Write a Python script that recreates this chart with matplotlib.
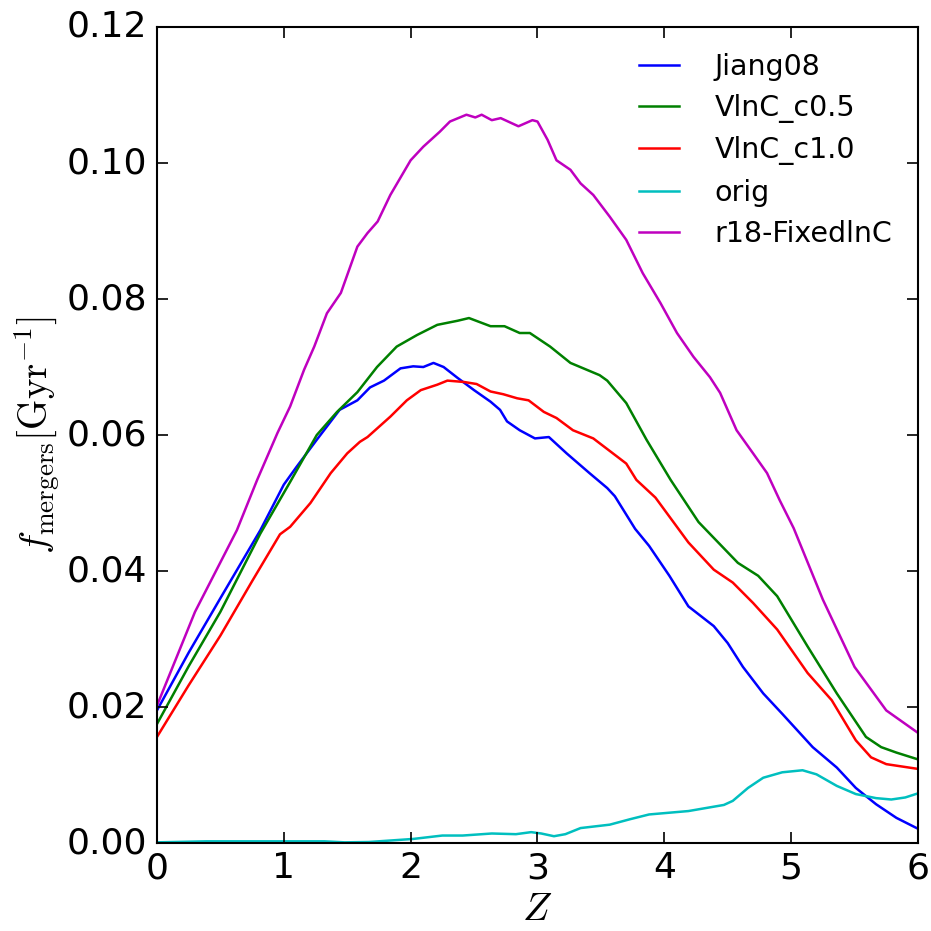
import matplotlib
matplotlib.use("Agg")
import matplotlib.pyplot as plt

z_jiang = [0.0, 0.25, 0.5, 0.815, 1.0, 1.1, 1.26, 1.44, 1.58, 1.68, 1.79, 1.92, 2.02, 2.10, 2.18, 2.26, 2.37, 2.50, 2.63, 2.705, 2.76, 2.86, 2.98, 3.09, 3.23, 3.41, 3.55, 3.61, 3.77, 3.88, 4.04, 4.19, 4.39, 4.50, 4.62, 4.78, 4.93, 5.17, 5.36, 5.51, 5.67, 5.83, 6.0]
f_jiang = [0.0195, 0.028, 0.036, 0.046, 0.0527, 0.0553, 0.0593, 0.0637, 0.0651, 0.067, 0.068, 0.0698, 0.0701, 0.070, 0.0706, 0.070, 0.0684, 0.0666, 0.0649, 0.0637, 0.062, 0.0607, 0.0595, 0.0597, 0.0573, 0.0544, 0.0522, 0.0510, 0.0462, 0.0437, 0.0393, 0.0348, 0.0319, 0.0294, 0.0259, 0.022, 0.019, 0.0141, 0.0111, 0.0081, 0.0057, 0.0037, 0.0021]

z_c05 = [0.0, 0.25, 0.5, 0.815, 1.05, 1.26, 1.42, 1.58, 1.735, 1.89, 2.05, 2.21, 2.37, 2.46, 2.63, 2.74, 2.86, 2.94, 3.10, 3.26, 3.49, 3.55, 3.70, 3.86, 4.05, 4.27, 4.58, 4.74, 4.89, 5.13, 5.36, 5.59, 5.71, 5.83, 6.0]
f_c05 = [0.0175, 0.026, 0.034, 0.0455, 0.0531, 0.060, 0.0634, 0.0663, 0.070, 0.073, 0.0747, 0.0762, 0.0768, 0.0772, 0.076, 0.076, 0.0750, 0.075, 0.073, 0.0706, 0.0688, 0.068, 0.0647, 0.0593, 0.0534, 0.0472, 0.0412, 0.0393, 0.0363, 0.0289, 0.022, 0.0156, 0.0141, 0.0133, 0.0123]

z_c10 = [0.0, 0.25, 0.5, 0.75, 0.97, 1.05, 1.21, 1.37, 1.50, 1.60, 1.66, 1.84, 1.97, 2.08, 2.21, 2.29, 2.42, 2.52, 2.63, 2.73, 2.84, 2.93, 3.05, 3.15, 3.28, 3.44, 3.63, 3.70, 3.78, 3.93, 4.19, 4.39, 4.54, 4.70, 4.89, 5.13, 5.32, 5.51, 5.63, 5.75, 6.0]
f_c10 = [0.0156, 0.0232, 0.0305, 0.0385, 0.0454, 0.0465, 0.050, 0.0544, 0.0573, 0.059, 0.0597, 0.0627, 0.0651, 0.0666, 0.0674, 0.068, 0.0678, 0.0675, 0.0664, 0.066, 0.0654, 0.0651, 0.0634, 0.0625, 0.0607, 0.0595, 0.0568, 0.0558, 0.0534, 0.0508, 0.0442, 0.0402, 0.0383, 0.0353, 0.0314, 0.025, 0.021, 0.0151, 0.0126, 0.0116, 0.0109]

z_orig = [0.0, 0.39, 0.78, 1.32, 1.48, 1.67, 2.02, 2.25, 2.41, 2.64, 2.83, 2.95, 3.03, 3.13, 3.22, 3.34, 3.57, 3.73, 3.88, 4.19, 4.47, 4.54, 4.66, 4.78, 4.93, 5.09, 5.20, 5.36, 5.51, 5.67, 5.79, 5.90, 6.0]
f_orig = [0.0001, 0.00025, 0.00025, 0.00025, 0.0001, 0.00015, 0.0006, 0.0011, 0.0011, 0.0014, 0.0013, 0.0016, 0.0014, 0.001, 0.0013, 0.0022, 0.0027, 0.0035, 0.0042, 0.0047, 0.0056, 0.0062, 0.0081, 0.0096, 0.0104, 0.0107, 0.0101, 0.0084, 0.0072, 0.0066, 0.0064, 0.0067, 0.0073]

z_r18 = [0.0, 0.3, 0.63, 0.79, 0.95, 1.05, 1.16, 1.24, 1.34, 1.45, 1.58, 1.66, 1.74, 1.84, 2.0, 2.10, 2.23, 2.31, 2.44, 2.51, 2.56, 2.64, 2.71, 2.85, 2.96, 3.0, 3.08, 3.15, 3.26, 3.34, 3.44, 3.57, 3.70, 3.83, 3.97, 4.10, 4.23, 4.36, 4.44, 4.57, 4.70, 4.81, 4.91, 5.02, 5.25, 5.5, 5.75, 6.0]
f_r18 = [0.0202, 0.034, 0.046, 0.0534, 0.0603, 0.0642, 0.0696, 0.073, 0.0779, 0.0809, 0.0877, 0.0897, 0.0914, 0.0953, 0.1004, 0.1024, 0.1046, 0.1061, 0.1071, 0.1067, 0.1071, 0.1063, 0.1066, 0.1054, 0.1063, 0.1061, 0.1034, 0.1004, 0.099, 0.097, 0.0953, 0.0921, 0.0887, 0.0838, 0.0794, 0.075, 0.0715, 0.0685, 0.0662, 0.0607, 0.0573, 0.0544, 0.0504, 0.0463, 0.0358, 0.0259, 0.0195, 0.0162]

labels = ["Jiang08", "VlnC_c0.5", "VlnC_c1.0", "orig", "r18-FixedlnC"]
colors = ["b", "g", "r", "c", "m"]

plt.style.use("classic")
plt.rcParams["mathtext.fontset"] = "cm"

fig = plt.figure(figsize=(9.31, 9.31), dpi=100, facecolor="white")
ax = fig.add_axes([0.1686, 0.0945, 0.8174, 0.8765])
ax.set_facecolor("white")

series = [(z_jiang, f_jiang), (z_c05, f_c05), (z_c10, f_c10), (z_orig, f_orig), (z_r18, f_r18)]
for (zz, ff), lab, col in zip(series, labels, colors):
    ax.plot(zz, ff, color=col, lw=1.8, label=lab)

ax.set_xlim(0, 6)
ax.set_ylim(0, 0.12)
ax.set_xticks([0, 1, 2, 3, 4, 5, 6])
ax.set_yticks([0.0, 0.02, 0.04, 0.06, 0.08, 0.10, 0.12])
ax.set_yticklabels(["0.00", "0.02", "0.04", "0.06", "0.08", "0.10", "0.12"])
ax.tick_params(axis="both", which="major", labelsize=26, length=8, width=1.2, direction="in")
ax.tick_params(axis="x", pad=6)
ax.tick_params(axis="y", pad=7)
for s in ax.spines.values():
    s.set_linewidth(1.5)

ax.set_xlabel(r"$Z$", fontsize=28, labelpad=3)
ax.set_ylabel(r"$f_{\rm mergers}[{\rm Gyr}^{-1}]$", fontsize=28, labelpad=4)

leg = ax.legend(loc="upper right", frameon=False, fontsize=20.5, handlelength=2.0,
                handletextpad=0.95, labelspacing=0.47, borderaxespad=0.5)

fig.savefig("out.png", dpi=100, facecolor="white")
